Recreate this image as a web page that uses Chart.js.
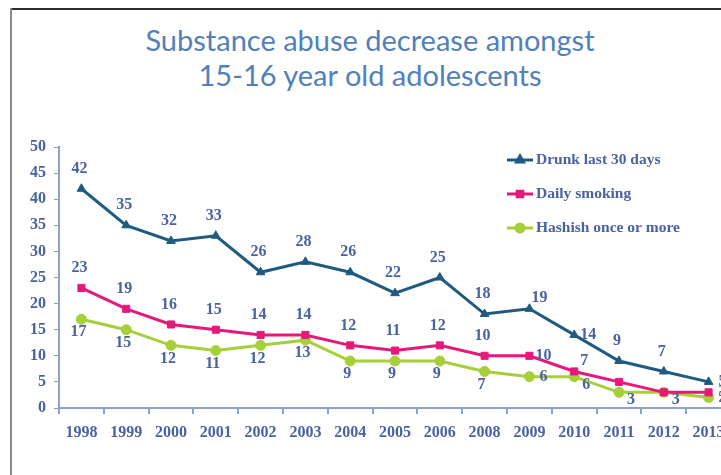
<!DOCTYPE html>
<html lang="en">
<head>
    <meta charset="UTF-8">
    <title>Substance abuse decrease amongst 15-16 year old adolescents</title>
    <style>
        html, body { margin: 0; padding: 0; background: #fff; overflow: hidden; }
        body { width: 721px; height: 475px; position: relative; }
        .frame-top { position: absolute; left: 10px; top: 8px; width: 720px; height: 2px; background: #2e2e2e; }
        .frame-left { position: absolute; left: 10px; top: 8px; width: 2px; height: 470px; background: #8a8a8a; }
        h1 {
            position: absolute; left: 0; top: 22px; width: 740px; margin: 0;
            text-align: center; font: 400 29px/35px Lato, "Open Sans", sans-serif;
            color: #5280ba;
        }
        .wrap { position: absolute; left: 0; top: 0; width: 760px; height: 475px; }
    </style>
</head>
<body>
    <div class="frame-top"></div>
    <div class="frame-left"></div>
    <h1>Substance abuse decrease amongst<br>15-16 year old adolescents</h1>
    <div class="wrap"><canvas id="trend"></canvas></div>

    <script src="https://cdn.jsdelivr.net/npm/chart.js"></script>
    <script>
        const years = ['1998', '1999', '2000', '2001', '2002', '2003', '2004', '2005',
                       '2006', '2008', '2009', '2010', '2011', '2012', '2013'];
        const drunk = [42, 35, 32, 33, 26, 28, 26, 22, 25, 18, 19, 14, 9, 7, 5];
        const smoking = [23, 19, 16, 15, 14, 14, 12, 11, 12, 10, 10, 7, 5, 3, 3];
        const hashish = [17, 15, 12, 11, 12, 13, 9, 9, 9, 7, 6, 6, 3, 3, 2];
        const seriesNames = ['Drunk last 30 days', 'Daily smoking', 'Hashish once or more'];

        // where each value label sits relative to its point
        const drunkPlace = ['above', 'above', 'above', 'above', 'above', 'above', 'above', 'above',
                            'above', 'above', 'aboveRight', 'right', 'above', 'above', 'right'];
        const smokingPlace = ['above', 'above', 'above', 'above', 'above', 'above', 'above', 'above',
                              'above', 'above', 'right', 'aboveRight', 'none', 'none', 'right'];
        const hashishPlace = ['below', 'below', 'below', 'below', 'below', 'below', 'below', 'below',
                              'below', 'below', 'right', 'belowRight', 'belowRight', 'belowRight', 'right'];
        const placeOffset = {
            above: [-2, -20], below: [-3, 13], right: [14, 0],
            aboveRight: [10, -11], belowRight: [12, 8]
        };

        const textColor = '#4a62a0';
        const serif = '"Liberation Serif", "Times New Roman", serif';

        const valueLabels = {
            id: 'valueLabels',
            afterDatasetsDraw(chart) {
                const ctx = chart.ctx;
                ctx.save();
                ctx.font = 'bold 16px ' + serif;
                ctx.fillStyle = textColor;
                ctx.textAlign = 'center';
                ctx.textBaseline = 'middle';
                chart.data.datasets.forEach((ds, i) => {
                    const meta = chart.getDatasetMeta(i);
                    meta.data.forEach((pt, j) => {
                        const off = placeOffset[ds.place[j]];
                        if (!off) return;
                        ctx.fillText(String(ds.data[j]), pt.x + off[0], pt.y + off[1]);
                    });
                });
                ctx.restore();
            }
        };

        // legend drawn inside the plot, top right
        const innerLegend = {
            id: 'innerLegend',
            afterDraw(chart) {
                const ctx = chart.ctx;
                ctx.save();
                chart.data.datasets.forEach((ds, i) => {
                    const y = 160 + i * 34;
                    ctx.strokeStyle = ds.borderColor;
                    ctx.lineWidth = 3;
                    ctx.beginPath();
                    ctx.moveTo(507, y);
                    ctx.lineTo(533, y);
                    ctx.stroke();
                    Chart.helpers.drawPoint(ctx, {
                        pointStyle: ds.pointStyle, radius: 4, borderWidth: 1
                    }, 520, y);
                    ctx.fillStyle = ds.borderColor;
                    ctx.fill();
                    ctx.font = 'bold 15.5px ' + serif;
                    ctx.fillStyle = textColor;
                    ctx.textAlign = 'left';
                    ctx.textBaseline = 'middle';
                    ctx.fillText(ds.label, 536, y);
                });
                ctx.restore();
            }
        };

        const lineSet = (label, data, color, style, radius, place) => ({
            label, data, place,
            borderColor: color,
            backgroundColor: color,
            borderWidth: 3,
            pointStyle: style,
            pointRadius: radius,
            pointBorderWidth: 1,
            tension: 0
        });

        new Chart(document.getElementById('trend'), {
            type: 'line',
            data: {
                labels: years,
                datasets: [
                    lineSet(seriesNames[0], drunk, '#1f5b80', 'triangle', 5, drunkPlace),
                    lineSet(seriesNames[1], smoking, '#e6197b', 'rect', 5, smokingPlace),
                    lineSet(seriesNames[2], hashish, '#a6cf3a', 'circle', 5, hashishPlace)
                ]
            },
            options: {
                responsive: true,
                maintainAspectRatio: false,
                animation: false,
                layout: { padding: { top: 147, right: 29, left: 0, bottom: 0 } },
                plugins: { legend: { display: false }, tooltip: { enabled: false } },
                scales: {
                    x: {
                        offset: true,
                        afterFit(scale) { scale.height = 67; },
                        grid: { offset: true, drawOnChartArea: false, tickLength: 6, color: '#8ea2c8', lineWidth: 2 },
                        border: { color: '#8ea2c8', width: 2 },
                        ticks: { font: { family: serif, size: 16, weight: 'bold' }, color: textColor, padding: 9, maxRotation: 0, autoSkip: false }
                    },
                    y: {
                        min: 0, max: 50,
                        afterFit(scale) { scale.width = 59; },
                        grid: { drawOnChartArea: false, tickLength: 5, color: '#8ea2c8', lineWidth: 1 },
                        border: { color: '#8ea2c8', width: 2 },
                        ticks: { stepSize: 5, font: { family: serif, size: 16, weight: 'bold' }, color: textColor, padding: 8 }
                    }
                }
            },
            plugins: [valueLabels, innerLegend]
        });
    </script>
</body>
</html>
